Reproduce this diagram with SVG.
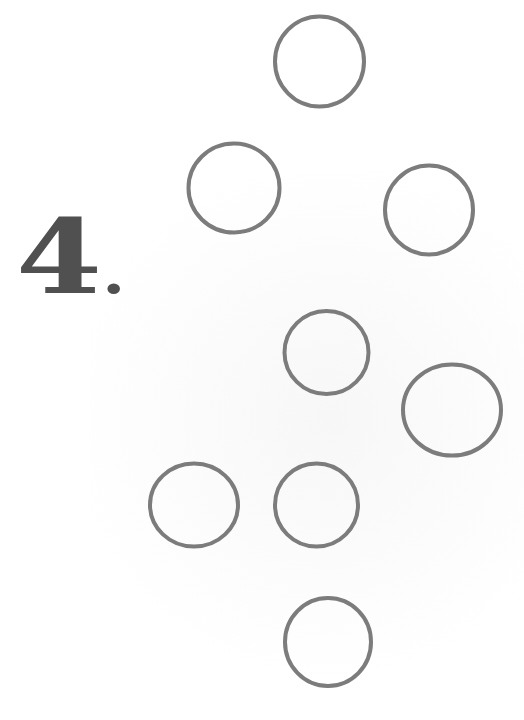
<svg xmlns="http://www.w3.org/2000/svg" width="524" height="720" viewBox="0 0 524 720">
<defs>
<radialGradient id="bg" cx="330" cy="420" r="260" gradientUnits="userSpaceOnUse">
<stop offset="0" stop-color="#f7f7f7"/>
<stop offset="1" stop-color="#ffffff"/>
</radialGradient>
</defs>
<style>
.c{fill:none;stroke:#7c7c7c;stroke-width:4}
.lbl{font-family:"DejaVu Serif","Liberation Serif",serif;font-weight:bold;fill:#505050}
</style>
<rect width="524" height="720" fill="#ffffff"/>
<rect x="90" y="170" width="434" height="550" fill="url(#bg)"/>
<g id="label">
<text class="lbl" x="16" y="293" font-size="103" transform="translate(16,0) scale(1.2,1) translate(-16,0)">4<tspan font-size="56">.</tspan></text>
</g>
<g id="n1"><ellipse class="c" cx="319.5" cy="61.5" rx="44.5" ry="45"/></g>
<g id="n2"><ellipse class="c" cx="234" cy="188" rx="45.5" ry="44.5"/></g>
<g id="n3"><ellipse class="c" cx="429" cy="210" rx="44" ry="44.5"/></g>
<g id="n4"><ellipse class="c" cx="326.5" cy="352.5" rx="42" ry="41.5"/></g>
<g id="n5"><ellipse class="c" cx="452" cy="410" rx="49" ry="45.5"/></g>
<g id="n6"><ellipse class="c" cx="194" cy="505" rx="44" ry="41.5"/></g>
<g id="n7"><ellipse class="c" cx="316.5" cy="505" rx="41.5" ry="41.5"/></g>
<g id="n8"><ellipse class="c" cx="328" cy="642" rx="43" ry="44"/></g>
<g id="connectors"/>
</svg>
